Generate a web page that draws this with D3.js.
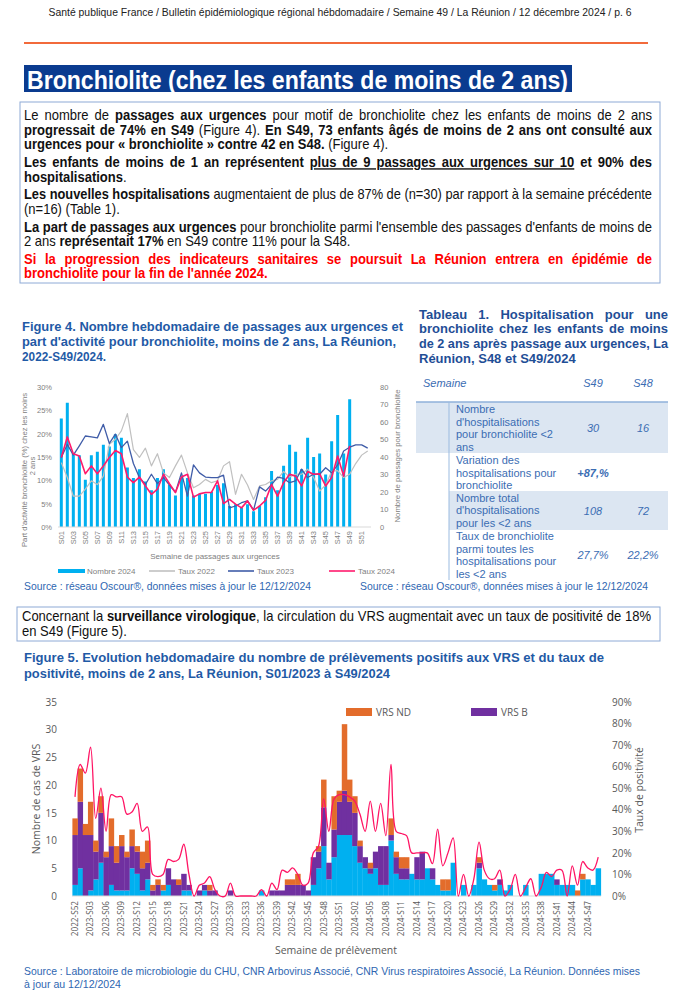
<!DOCTYPE html>
<html>
<head>
<meta charset="utf-8">
<script src="https://cdn.jsdelivr.net/npm/d3@7"></script>
<style>
body { margin: 0; background: #fff; }
</style>
</head>
<body>
<svg id="page" width="680" height="1000"></svg>
<script>
var SANS = "'Liberation Sans', Arial, sans-serif";
var CALIBRI = "'Open Sans', 'Noto Sans', sans-serif";
var BLUE_TXT = "#1f5aa6";
var NARROW_K = 0.93;   // horizontal squeeze standing in for Arial Narrow

// ---------- Figure 4 data (passages aux urgences) ----------
var weeks4 = ["S01","S02","S03","S04","S05","S06","S07","S08","S09","S10","S11","S12","S13",
  "S14","S15","S16","S17","S18","S19","S20","S21","S22","S23","S24","S25","S26","S27","S28",
  "S29","S30","S31","S32","S33","S34","S35","S36","S37","S38","S39","S40","S41","S42","S43",
  "S44","S45","S46","S47","S48","S49","S50","S51","S52"];
var nombre2024 = [62,71,42,41,27,41,43,47,46,53,51,34,28,33,26,21,28,33,24,18,28,28,18,19,19,
  20,24,25,12,13,11,13,9,12,17,32,21,35,47,43,33,51,40,42,30,49,64,42,73];
var taux2022 = [13.8,10.6,6.6,6.6,8.1,9.9,9.1,10.9,17.7,18.8,20.6,24.3,16.6,14.9,16.9,13.1,15.7,
  11.6,10.6,13.1,15.4,11.6,8.4,9.1,10.2,9.5,9.9,13.1,14,7,11.3,9,5.9,8.8,9.1,9.9,10.2,11.9,10.7,
  11.3,11.3,12.4,10.6,7.7,9,11.9,12.1,10.6,11.3,13.6,15.4,16.3];
var taux2023 = [14.9,17.7,15.4,17.4,19.5,19.3,19.1,22,17.9,19.9,17,18.4,13.6,10.6,9.1,11.3,9.3,
  10.6,9,7.4,11.6,6.6,13.3,11.6,10.7,10.6,10.6,11.1,4.1,4.5,5.2,5.6,3.6,8.6,7.7,9.1,10.7,10.4,
  9.5,9.9,12.4,10.6,11.3,11.3,12.7,11.6,13.3,16.3,17.1,17.6,17.6,16.9];
var taux2024 = [14.9,19.3,15.7,15.2,11.4,13.1,11.4,13.1,14.9,16.4,15.7,10.7,9.5,10.7,8.8,7.0,8.1,
  11.3,9.3,7.4,10.7,11.3,6.4,7.1,7.4,7.4,9.9,5.0,5.9,4.9,4.1,5.6,3.6,4.5,5.7,9.1,6.6,9.5,11.3,
  10.9,8.8,11.9,11.3,11.4,8.8,10.6,15.2,10.9,17.4];
var ticksPct4 = [0, 0.05, 0.10, 0.15, 0.20, 0.25, 0.30];
var ticksNb4 = [0, 10, 20, 30, 40, 50, 60, 70, 80];

// ---------- Tableau 1 ----------
var tabLabels = [
  ["Nombre", "d'hospitalisations", "pour bronchiolite <2", "ans"],
  ["Variation des", "hospitalisations pour", "bronchiolite"],
  ["Nombre total", "d'hospitalisations", "pour les <2 ans"],
  ["Taux de bronchiolite", "parmi toutes les", "hospitalisations pour", "les <2 ans"]
];
var tabS49 = ["30", "+87,%", "108", "27,7%"];
var tabS48 = ["16", "", "72", "22,2%"];

// ---------- Figure 5 data (VRS) ----------
var vrsA = [2,5,0,1,3,6,0,2,1,1,1,5,4,1,3,0,0,1,2,0,0,1,1,0,0,1,0,0,0,0,0,0,0,0,0,0,1,0,0,0,
  0,0,0,0,0,0,2,5,9,3,7,11,11,11,9,6,5,4,5,2,2,10,4,3,3,4,3,3,5,3,2,1,1,6,0,2,0,2,5,3,2,1,2,1,
  2,0,0,2,0,0,4,4,4,2,2,2,2,0,3,3,2,5];
var vrsB = [9,12,11,10,5,9,7,7,5,8,6,4,4,4,3,1,2,0,3,3,2,3,1,0,1,1,1,1,0,0,1,0,0,0,0,0,0,0,1,1,
  1,2,2,2,2,1,5,3,7,3,5,6,8,6,6,3,2,1,3,7,7,1,3,2,2,0,4,5,0,2,0,0,0,0,0,0,0,0,1,0,0,0,1,0,
  0,0,0,0,0,0,0,0,0,1,0,0,0,0,0,0,0,0];
var vrsND = [3,6,2,6,2,3,1,5,3,2,1,3,1,3,4,1,1,1,0,0,1,0,0,0,0,0,1,0,0,0,0,0,0,0,0,0,0,0,0,0,
  0,1,1,2,0,0,0,1,5,0,6,2,12,4,3,1,0,1,0,0,0,3,1,2,2,0,0,0,0,0,0,2,2,0,0,0,0,0,1,0,0,1,0,0,
  0,0,0,0,0,0,0,0,0,0,0,0,0,1,1,0,0,0];
var tauxPos = [46,61,57,69,36,50,30,47,46,46,38,39,43,30,32,10,9,10,17,16,17,24,10,0,5,6,9,3,0,
  0,6,0,0,0,0,0,3,0,6,3,12,11,13,10,5,6,20,23,45,30,45,47,47,46,44,38,30,44,30,43,28,61,30,29,
  28,20,20,20,20,15,31,14,20,27,0,10,0,8,25,12,8,8,12,0,3,10,0,4,8,0,4,11,9,12,12,0,14,5,16,
  13,12,18];
var ticksNb5 = [0, 5, 10, 15, 20, 25, 30, 35];
var ticksPct5 = [0, 0.1, 0.2, 0.3, 0.4, 0.5, 0.6, 0.7, 0.8, 0.9];
var weeks5 = ["2022-S52"];
for (var w = 1; w <= 52; w++) weeks5.push("2023-S" + (w < 10 ? "0" : "") + w);
for (var w = 1; w <= 49; w++) weeks5.push("2024-S" + (w < 10 ? "0" : "") + w);

var page = d3.select("#page");

function addText(g, x, y, parts, o) {
  o = o || {};
  var t = g.append("text").attr("x", x).attr("y", y)
    .style("font-family", o.font || SANS)
    .style("font-size", (o.size || 12) + "px")
    .attr("fill", o.color || "#000");
  if (o.anchor) t.attr("text-anchor", o.anchor);
  if (o.weight) t.style("font-weight", o.weight);
  if (o.italic) t.style("font-style", "italic");
  if (typeof parts === "string") parts = [[parts, ""]];
  parts.forEach(function (p) {
    var s = t.append("tspan").text(p[0]);
    var f = p[1] || "";
    if (f.indexOf("b") >= 0) s.style("font-weight", "bold");
    if (f.indexOf("u") >= 0) s.style("text-decoration", "underline");
  });
  var k = 1;
  if (o.condense) {
    k = o.condense;
    t.attr("x", 0).attr("transform", "translate(" + x + ",0) scale(" + k + ",1)");
  }
  if (o.justify) {
    var wdt = t.node().getComputedTextLength();
    var n = parts.map(function (p) { return p[0]; }).join("").split(" ").length - 1;
    var extra = o.justify / k - wdt;
    if (extra < 0) {
      t.attr("textLength", o.justify / k).attr("lengthAdjust", "spacingAndGlyphs");
    } else if (n > 0) {
      t.style("word-spacing", (extra / n) + "px");
    }
  }
  if (o.len) t.attr("textLength", o.len).attr("lengthAdjust", "spacingAndGlyphs");
  return t;
}

// ---------- header ----------
addText(page, 340, 16, "Santé publique France / Bulletin épidémiologique régional hébdomadaire / Semaine 49 / La Réunion / 12 décembre 2024 / p. 6",
  {size: 11, anchor: "middle", color: "#222", len: 583});
page.append("line").attr("x1", 24).attr("x2", 648).attr("y1", 43).attr("y2", 43)
  .attr("stroke", "#f26a3b").attr("stroke-width", 2);
page.append("rect").attr("x", 24).attr("y", 65).attr("width", 548).attr("height", 27).attr("fill", "#0a3b8f");
addText(page, 27, 88.5, "Bronchiolite (chez les enfants de moins de 2 ans)",
  {size: 26, weight: "bold", color: "#fff", len: 541});

// ---------- text box 1 ----------
page.append("rect").attr("x", 20).attr("y", 102).attr("width", 640).attr("height", 181)
  .attr("fill", "none").attr("stroke", "#8eaad6").attr("stroke-width", 1);
var box1 = [
  {y: 120.5, j: true, p: [["Le nombre de ", ""], ["passages aux urgences", "b"], [" pour motif de bronchiolite chez les enfants de moins de 2 ans", ""]]},
  {y: 135, j: true, p: [["progressait de 74% en S49", "b"], [" (Figure 4). ", ""], ["En S49, 73 enfants âgés de moins de 2 ans ont consulté aux", "b"]]},
  {y: 149.5, p: [["urgences pour « bronchiolite » contre 42 en S48.", "b"], [" (Figure 4).", ""]]},
  {y: 167.2, j: true, p: [["Les enfants de moins de 1 an représentent ", "b"], ["plus de 9 passages aux urgences sur 10", "bu"], [" et 90% des", "b"]]},
  {y: 181.7, p: [["hospitalisations", "b"], [".", ""]]},
  {y: 199.5, j: true, p: [["Les nouvelles hospitalisations", "b"], [" augmentaient de plus de 87% de (n=30) par rapport à la semaine précédente", ""]]},
  {y: 214, p: [["(n=16) (Table 1).", ""]]},
  {y: 231.7, j: true, p: [["La part de passages aux urgences", "b"], [" pour bronchiolite parmi l'ensemble des passages d'enfants de moins de", ""]]},
  {y: 246.2, p: [["2 ans ", ""], ["représentait 17%", "b"], [" en S49 contre 11% pour la S48.", ""]]},
  {y: 264, j: true, red: true, p: [["Si la progression des indicateurs sanitaires se poursuit La Réunion entrera en épidémie de", "b"]]},
  {y: 278.5, red: true, p: [["bronchiolite pour la fin de l'année 2024.", "b"]]}
];
box1.forEach(function (l) {
  addText(page, 24, l.y, l.p, {size: 14, condense: NARROW_K, color: l.red ? "#ff0000" : "#111",
    justify: l.j ? 628 : null});
});

// ---------- Figure 4 ----------
var fig4Title = ["Figure 4. Nombre hebdomadaire de passages aux urgences et",
  "part d'activité pour bronchiolite, moins de 2 ans, La Réunion,", "2022-S49/2024."];
var fig4Len = [381, 374, 84];
fig4Title.forEach(function (s, i) {
  addText(page, 22, 331 + 15 * i, s, {size: 12.8, weight: "bold", color: BLUE_TXT, len: fig4Len[i]});
});

var f4 = page.append("g");
var x4 = d3.scaleBand().domain(weeks4).range([58.3, 370.7]).paddingInner(0.5).paddingOuter(0.25);
var yL4 = d3.scaleLinear().domain([0, 0.30]).range([527, 387]);
var yR4 = d3.scaleLinear().domain([0, 80]).range([527, 387]);
var cx4 = function (d, i) { return x4(weeks4[i]) + x4.bandwidth() / 2; };

f4.selectAll("rect.nb").data(nombre2024).enter().append("rect")
  .attr("x", function (d, i) { return x4(weeks4[i]); })
  .attr("y", function (d) { return yR4(d); })
  .attr("width", x4.bandwidth())
  .attr("height", function (d) { return yR4(0) - yR4(d); })
  .attr("fill", "#00b0f0");
f4.append("line").attr("x1", 58).attr("x2", 371).attr("y1", 527).attr("y2", 527)
  .attr("stroke", "#d9d9d9").attr("stroke-width", 1);

var line4 = d3.line().x(cx4).y(function (d) { return yL4(d / 100); });
[[taux2022, "#c0c0c0", 1.2], [taux2023, "#3f5ca8", 1.3], [taux2024, "#ff1a6c", 1.6]].forEach(function (s) {
  f4.append("path").attr("d", line4(s[0])).attr("fill", "none")
    .attr("stroke", s[1]).attr("stroke-width", s[2]).attr("stroke-linejoin", "round");
});

var axL4 = f4.append("g").attr("transform", "translate(56,0)")
  .call(d3.axisLeft(yL4).tickValues(ticksPct4).tickFormat(d3.format(".0%")).tickSize(0).tickPadding(4));
var axR4 = f4.append("g").attr("transform", "translate(375,0)")
  .call(d3.axisRight(yR4).tickValues(ticksNb4).tickSize(0).tickPadding(5));
[axL4, axR4].forEach(function (a) {
  a.select(".domain").remove();
  a.selectAll("text").attr("fill", "#808080").style("font-family", SANS).style("font-size", "7.5px");
});
f4.selectAll("text.xl").data(weeks4.filter(function (d, i) { return i % 2 === 0; })).enter().append("text")
  .attr("transform", function (d) { return "translate(" + (x4(d) + x4.bandwidth() / 2) + ",531) rotate(-90)"; })
  .attr("text-anchor", "end").attr("dy", "0.35em")
  .attr("fill", "#808080").style("font-family", SANS).style("font-size", "7.5px")
  .text(function (d) { return d; });
addText(f4, 215, 559, "Semaine de passages aux urgences", {size: 8, color: "#808080", anchor: "middle"});
addText(f4, 0, 0, "Part d'activité bronchiolite (%) chez les moins", {size: 7.5, color: "#808080", anchor: "middle", len: 154})
  .attr("transform", "translate(27,470) rotate(-90)");
addText(f4, 0, 0, "2 ans", {size: 7.5, color: "#808080", anchor: "middle"})
  .attr("transform", "translate(35,466) rotate(-90)");
addText(f4, 0, 0, "Nombre de passages pour bronchiolite", {size: 7.5, color: "#808080", anchor: "middle", len: 133})
  .attr("transform", "translate(400,456) rotate(-90)");

// legend figure 4
var leg4 = [["Nombre 2024", "#00b0f0", 58, "bar"], ["Taux 2022", "#c0c0c0", 149, "line"],
  ["Taux 2023", "#3f5ca8", 228, "line"], ["Taux 2024", "#ff1a6c", 329, "line"]];
leg4.forEach(function (l) {
  if (l[3] === "bar") {
    f4.append("rect").attr("x", l[2]).attr("y", 569).attr("width", 27).attr("height", 4).attr("fill", l[1]);
  } else {
    f4.append("line").attr("x1", l[2]).attr("x2", l[2] + 26).attr("y1", 571).attr("y2", 571)
      .attr("stroke", l[1]).attr("stroke-width", 1.6);
  }
  addText(f4, l[2] + 29, 574, l[0], {size: 8, color: "#808080"});
});
addText(page, 24, 590, "Source : réseau Oscour®, données mises à jour le 12/12/2024", {size: 10.5, color: "#2e66b1", len: 287});

// ---------- Tableau 1 ----------
var tabTitle = ["Tableau 1. Hospitalisation pour une", "bronchiolite chez les enfants de moins",
  "de 2 ans après passage aux urgences, La", "Réunion, S48 et S49/2024"];
tabTitle.forEach(function (s, i) {
  addText(page, 419, 318.5 + 14.7 * i, s, {size: 13, weight: "bold", color: "#1f4e96",
    justify: i < 3 ? 249 : null});
});
var tab = page.append("g");
tab.append("rect").attr("x", 416).attr("y", 402).attr("width", 252).attr("height", 51).attr("fill", "#dce6f2");
tab.append("rect").attr("x", 449).attr("y", 491).attr("width", 219).attr("height", 39).attr("fill", "#dce6f2");
tab.append("line").attr("x1", 416).attr("x2", 668).attr("y1", 402).attr("y2", 402)
  .attr("stroke", "#8fb0da").attr("stroke-width", 1.5);
tab.append("line").attr("x1", 449).attr("x2", 449).attr("y1", 402).attr("y2", 580)
  .attr("stroke", "#9bbbe0").attr("stroke-width", 1);
var TAB_COL = "#3b6db3";
addText(tab, 423, 387.3, "Semaine", {size: 11, italic: true, color: TAB_COL});
addText(tab, 593, 387.3, "S49", {size: 11, italic: true, color: TAB_COL, anchor: "middle"});
addText(tab, 643, 387.3, "S48", {size: 11, italic: true, color: TAB_COL, anchor: "middle"});
var rowTop = [413, 464, 501.7, 540];
var rowVal = [431.7, 476.7, 514.7, 559];
tabLabels.forEach(function (lines, r) {
  lines.forEach(function (s, k) {
    addText(tab, 456, rowTop[r] + 12.6 * k, s, {size: 11, color: TAB_COL});
  });
  addText(tab, 593, rowVal[r], tabS49[r], {size: 11, italic: true, color: TAB_COL, anchor: "middle",
    weight: r === 1 ? "bold" : null});
  addText(tab, 643, rowVal[r], tabS48[r], {size: 11, italic: true, color: TAB_COL, anchor: "middle"});
});
addText(page, 360, 590, "Source : réseau Oscour®, données mises à jour le 12/12/2024", {size: 10.5, color: "#2e66b1", len: 288});

// ---------- text box 2 ----------
page.append("rect").attr("x", 17).attr("y", 607).attr("width", 643).attr("height", 34)
  .attr("fill", "none").attr("stroke", "#8eaad6").attr("stroke-width", 1);
addText(page, 22, 621.5, [["Concernant la ", ""], ["surveillance virologique", "b"],
  [", la circulation du VRS augmentait avec un taux de positivité de 18%", ""]],
  {size: 14, condense: NARROW_K, color: "#111", justify: 629});
addText(page, 22, 636, "en S49 (Figure 5).", {size: 14, condense: NARROW_K, color: "#111"});

// ---------- Figure 5 ----------
addText(page, 24, 661.5, "Figure 5. Evolution hebdomadaire du nombre de prélèvements positifs aux VRS et du taux de",
  {size: 13.5, weight: "bold", color: BLUE_TXT, len: 580});
addText(page, 24, 677.5, "positivité, moins de 2 ans, La Réunion, S01/2023 à S49/2024",
  {size: 13.5, weight: "bold", color: BLUE_TXT, len: 366});

var f5 = page.append("g");
var x5 = d3.scaleBand().domain(weeks5).range([72.4, 600.8]).padding(0);
var y5 = d3.scaleLinear().domain([0, 35]).range([896, 702]);
var yR5 = d3.scaleLinear().domain([0, 0.9]).range([896, 702]);
var rows5 = weeks5.map(function (wk, i) { return {week: wk, A: vrsA[i], B: vrsB[i], ND: vrsND[i]}; });
var stack5 = d3.stack().keys(["A", "B", "ND"])(rows5);
var col5 = {A: "#00b0f0", B: "#7030a0", ND: "#e36c2b"};
stack5.forEach(function (layer) {
  f5.append("g").attr("fill", col5[layer.key]).selectAll("rect").data(layer).enter().append("rect")
    .attr("x", function (d) { return x5(d.data.week); })
    .attr("y", function (d) { return y5(d[1]); })
    .attr("width", x5.bandwidth() + 0.3)
    .attr("height", function (d) { return y5(d[0]) - y5(d[1]); });
});
f5.append("line").attr("x1", 72).attr("x2", 601).attr("y1", 896).attr("y2", 896)
  .attr("stroke", "#d9d9d9").attr("stroke-width", 1);
var line5 = d3.line()
  .x(function (d, i) { return x5(weeks5[i]) + x5.bandwidth() / 2; })
  .y(function (d) { return yR5(d / 100); })
  .curve(d3.curveCatmullRom.alpha(0.5));
f5.append("path").attr("d", line5(tauxPos)).attr("fill", "none")
  .attr("stroke", "#ff1464").attr("stroke-width", 1.3);

var axL5 = f5.append("g").attr("transform", "translate(63,0)")
  .call(d3.axisLeft(y5).tickValues(ticksNb5).tickSize(0).tickPadding(6));
var axR5 = f5.append("g").attr("transform", "translate(606,0)")
  .call(d3.axisRight(yR5).tickValues(ticksPct5).tickFormat(d3.format(".0%")).tickSize(0).tickPadding(6));
[axL5, axR5].forEach(function (a) {
  a.select(".domain").remove();
  a.selectAll("text").attr("fill", "#595959").style("font-family", CALIBRI).style("font-size", "10px");
});
f5.selectAll("text.xl").data(weeks5.filter(function (d, i) { return i % 3 === 0; })).enter().append("text")
  .attr("transform", function (d) { return "translate(" + (x5(d) + x5.bandwidth() / 2) + ",901) rotate(-90)"; })
  .attr("text-anchor", "end").attr("dy", "0.35em")
  .attr("fill", "#595959").style("font-family", CALIBRI).style("font-size", "8.2px")
  .text(function (d) { return d; });
addText(f5, 336, 954, "Semaine de prélèvement", {font: CALIBRI, size: 10.5, color: "#595959", anchor: "middle"});
addText(f5, 0, 0, "Nombre de cas de VRS", {font: CALIBRI, size: 10.5, color: "#595959", anchor: "middle"})
  .attr("transform", "translate(40,799) rotate(-90)");
addText(f5, 0, 0, "Taux de positivité", {font: CALIBRI, size: 10.5, color: "#595959", anchor: "middle"})
  .attr("transform", "translate(643,790) rotate(-90)");

var leg5 = [["VRS ND", col5.ND, 346], ["VRS B", col5.B, 471]];
leg5.forEach(function (l) {
  f5.append("rect").attr("x", l[2]).attr("y", 708).attr("width", 26).attr("height", 8).attr("fill", l[1]);
  addText(f5, l[2] + 30, 716, l[0], {font: CALIBRI, size: 10, color: "#595959"});
});

addText(page, 24, 975, "Source : Laboratoire de microbiologie du CHU, CNR Arbovirus Associé, CNR Virus respiratoires Associé, La Réunion. Données mises",
  {size: 10.5, color: "#2e66b1", len: 616});
addText(page, 24, 988, "à jour au 12/12/2024", {size: 10.5, color: "#2e66b1", len: 97});
</script>
</body>
</html>
